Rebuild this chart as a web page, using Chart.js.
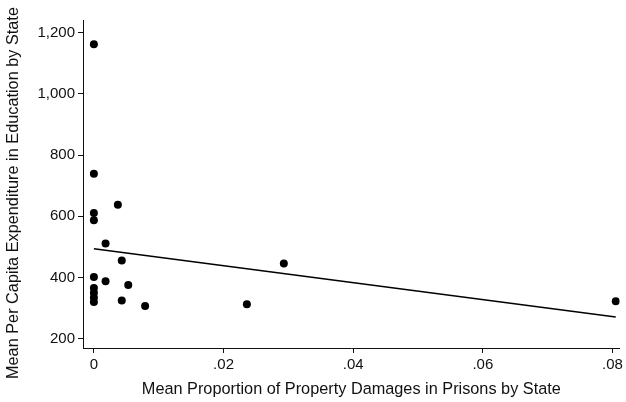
<!DOCTYPE html>
<html>
<head>
<meta charset="utf-8">
<script src="https://cdn.jsdelivr.net/npm/chart.js@4"></script>
<style>
  html, body { margin: 0; padding: 0; background: #fff; }
  #wrap { width: 626px; height: 402px; }
</style>
</head>
<body>
<div id="wrap"><canvas id="c" width="626" height="402"></canvas></div>
<script>
// Data
const propDamage = [0, 0, 0, 0, 0, 0, 0, 0, 0, 0.0037, 0.0018, 0.0043, 0.0018, 0.0053, 0.0043, 0.0079, 0.0236, 0.0293, 0.0805];
const eduSpending = [1162, 739, 611, 587, 402, 366, 350, 335, 320, 638, 511, 456, 388, 376, 325, 307, 313, 446, 323];
const fitX = [0, 0.0805];
const fitY = [494, 271];
const xTicks = [0, 0.02, 0.04, 0.06, 0.08];
const yTicks = [200, 400, 600, 800, 1000, 1200];
const xTitle = 'Mean Proportion of Property Damages in Prisons by State';
const yTitle = 'Mean Per Capita Expenditure in Education by State';

const FONT = "'Liberation Sans', Arial, Helvetica, sans-serif";
const INK = '#111';

const scatterPts = propDamage.map((x, i) => ({ x: x, y: eduSpending[i] }));
const fitPts = fitX.map((x, i) => ({ x: x, y: fitY[i] }));

new Chart(document.getElementById('c'), {
  type: 'scatter',
  data: {
    datasets: [
      {
        data: scatterPts,
        backgroundColor: '#000',
        borderColor: '#000',
        pointRadius: 4,
        pointHoverRadius: 4,
        borderWidth: 0
      },
      {
        type: 'line',
        data: fitPts,
        borderColor: '#000',
        borderWidth: 1.4,
        pointRadius: 0,
        fill: false,
        tension: 0
      }
    ]
  },
  options: {
    responsive: false,
    animation: false,
    events: [],
    layout: { padding: { top: 20, right: 1, left: 0, bottom: 0 } },
    plugins: { legend: { display: false }, tooltip: { enabled: false } },
    scales: {
      x: {
        type: 'linear',
        min: -0.00168,
        max: 0.0811,
        afterBuildTicks: s => { s.ticks = xTicks.map(v => ({ value: v })); },
        afterFit: s => { s.height = 54; },
        border: { display: true, color: INK, width: 1 },
        grid: { display: true, drawOnChartArea: false, drawTicks: true, tickLength: 5, color: INK },
        ticks: {
          color: INK,
          padding: 3,
          maxRotation: 0,
          autoSkip: false,
          font: { family: FONT, size: 15 },
          callback: v => v === 0 ? '0' : String(v).replace(/^0/, '')
        },
        title: {
          display: true,
          text: xTitle,
          color: INK,
          font: { family: FONT, size: 16.3 },
          padding: { top: 0, bottom: 3 }
        }
      },
      y: {
        type: 'linear',
        min: 170,
        max: 1241,
        afterBuildTicks: s => { s.ticks = yTicks.map(v => ({ value: v })); },
        afterFit: s => { s.width = 83; },
        border: { display: true, color: INK, width: 1 },
        grid: { display: true, drawOnChartArea: false, drawTicks: true, tickLength: 5, color: INK },
        ticks: {
          color: INK,
          padding: 3,
          autoSkip: false,
          font: { family: FONT, size: 15 },
          callback: v => v.toLocaleString('en-US')
        },
        title: {
          display: true,
          text: yTitle + '    ',
          color: INK,
          font: { family: FONT, size: 16.3 },
          padding: { top: 4, bottom: 0 }
        }
      }
    }
  }
});
</script>
</body>
</html>
